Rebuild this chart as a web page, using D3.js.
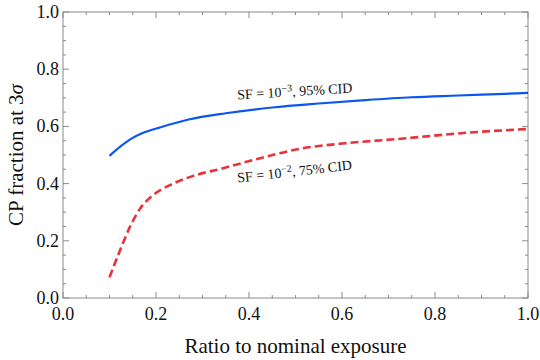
<!DOCTYPE html>
<html>
  <head>
    <meta charset="utf-8" />
    <title>CP fraction vs exposure</title>
    <script src="https://d3js.org/d3.v7.min.js"></script>
    <style>
      body { margin: 0; background: #fff; }
    </style>
  </head>
  <body>
    <svg width="540" height="360" font-family="Liberation Serif, Times New Roman, serif"></svg>
    <script>
      // exposure ratios and the two curves
      const ratioBlue = [0.10, 0.123, 0.148, 0.17, 0.21, 0.27, 0.35, 0.45, 0.55, 0.65, 0.75, 0.85, 0.95, 1.0];
      const cpBlue    = [0.497, 0.529, 0.558, 0.576, 0.597, 0.624, 0.646, 0.666, 0.680, 0.692, 0.702, 0.708, 0.714, 0.717];
      const ratioRed  = [0.10, 0.123, 0.144, 0.166, 0.194, 0.237, 0.28, 0.34, 0.42, 0.51, 0.60, 0.72, 0.87, 1.0];
      const cpRed     = [0.072, 0.168, 0.249, 0.313, 0.360, 0.400, 0.427, 0.452, 0.487, 0.522, 0.540, 0.556, 0.578, 0.591];
      const xTicks = [0, 0.2, 0.4, 0.6, 0.8, 1.0];
      const yTicks = [0, 0.2, 0.4, 0.6, 0.8, 1.0];

      const svg = d3.select("svg");
      const mLeft = 63, mRight = 528, mTop = 12, mBottom = 298;

      const x = d3.scaleLinear().domain([0, 1]).range([mLeft, mRight]);
      const y = d3.scaleLinear().domain([0, 1]).range([mBottom, mTop]);

      const minor = d3.range(0, 1.0001, 0.05);
      const frame = svg.append("g").attr("stroke", "#8a8a8a").attr("stroke-width", 1);

      // ticks on all four sides, pointing inward
      minor.forEach((v, i) => {
        const len = i % 4 === 0 ? 6 : 3;
        frame.append("line").attr("x1", x(v)).attr("x2", x(v)).attr("y1", mBottom).attr("y2", mBottom - len);
        frame.append("line").attr("x1", x(v)).attr("x2", x(v)).attr("y1", mTop).attr("y2", mTop + len);
        frame.append("line").attr("y1", y(v)).attr("y2", y(v)).attr("x1", mLeft).attr("x2", mLeft + len);
        frame.append("line").attr("y1", y(v)).attr("y2", y(v)).attr("x1", mRight).attr("x2", mRight - len);
      });
      frame.append("rect")
        .attr("x", mLeft).attr("y", mTop)
        .attr("width", mRight - mLeft).attr("height", mBottom - mTop)
        .attr("fill", "none");

      svg.selectAll(".xl").data(xTicks).enter().append("text")
        .attr("font-size", 18).attr("fill", "#111")
        .attr("x", d => x(d)).attr("y", mBottom + 22)
        .attr("text-anchor", "middle")
        .text(d => d.toFixed(1));

      svg.selectAll(".yl").data(yTicks).enter().append("text")
        .attr("font-size", 18).attr("fill", "#111")
        .attr("x", mLeft - 4).attr("y", d => y(d) + 6)
        .attr("text-anchor", "end")
        .text(d => d.toFixed(1));

      svg.append("text")
        .attr("font-size", 21).attr("fill", "#111")
        .attr("x", (mLeft + mRight) / 2).attr("y", 353)
        .attr("text-anchor", "middle")
        .text("Ratio to nominal exposure");

      svg.append("text")
        .attr("font-size", 21).attr("fill", "#111")
        .attr("transform", "translate(23," + (mTop + mBottom) / 2 + ") rotate(-90)")
        .attr("text-anchor", "middle")
        .html('CP fraction at 3<tspan font-style="italic">σ</tspan>');

      const line = d3.line().x(d => x(d[0])).y(d => y(d[1])).curve(d3.curveMonotoneX);

      svg.append("path")
        .attr("d", line(d3.zip(ratioBlue, cpBlue)))
        .attr("fill", "none").attr("stroke", "#0a56f2").attr("stroke-width", 2.2);

      svg.append("path")
        .attr("d", line(d3.zip(ratioRed, cpRed)))
        .attr("fill", "none").attr("stroke", "#e8323c").attr("stroke-width", 2.6)
        .attr("stroke-dasharray", "8,4");

      // curve labels
      svg.append("text")
        .attr("font-size", 14).attr("fill", "#111")
        .attr("transform", "translate(295,96) rotate(-3.5)")
        .attr("text-anchor", "middle")
        .html('SF = 10<tspan dy="-5" font-size="10">−3</tspan><tspan dy="5">, 95% CID</tspan>');

      svg.append("text")
        .attr("font-size", 14).attr("fill", "#111")
        .attr("transform", "translate(295,176) rotate(-6.5)")
        .attr("text-anchor", "middle")
        .html('SF = 10<tspan dy="-5" font-size="10">−2</tspan><tspan dy="5">, 75% CID</tspan>');
    </script>
  </body>
</html>
